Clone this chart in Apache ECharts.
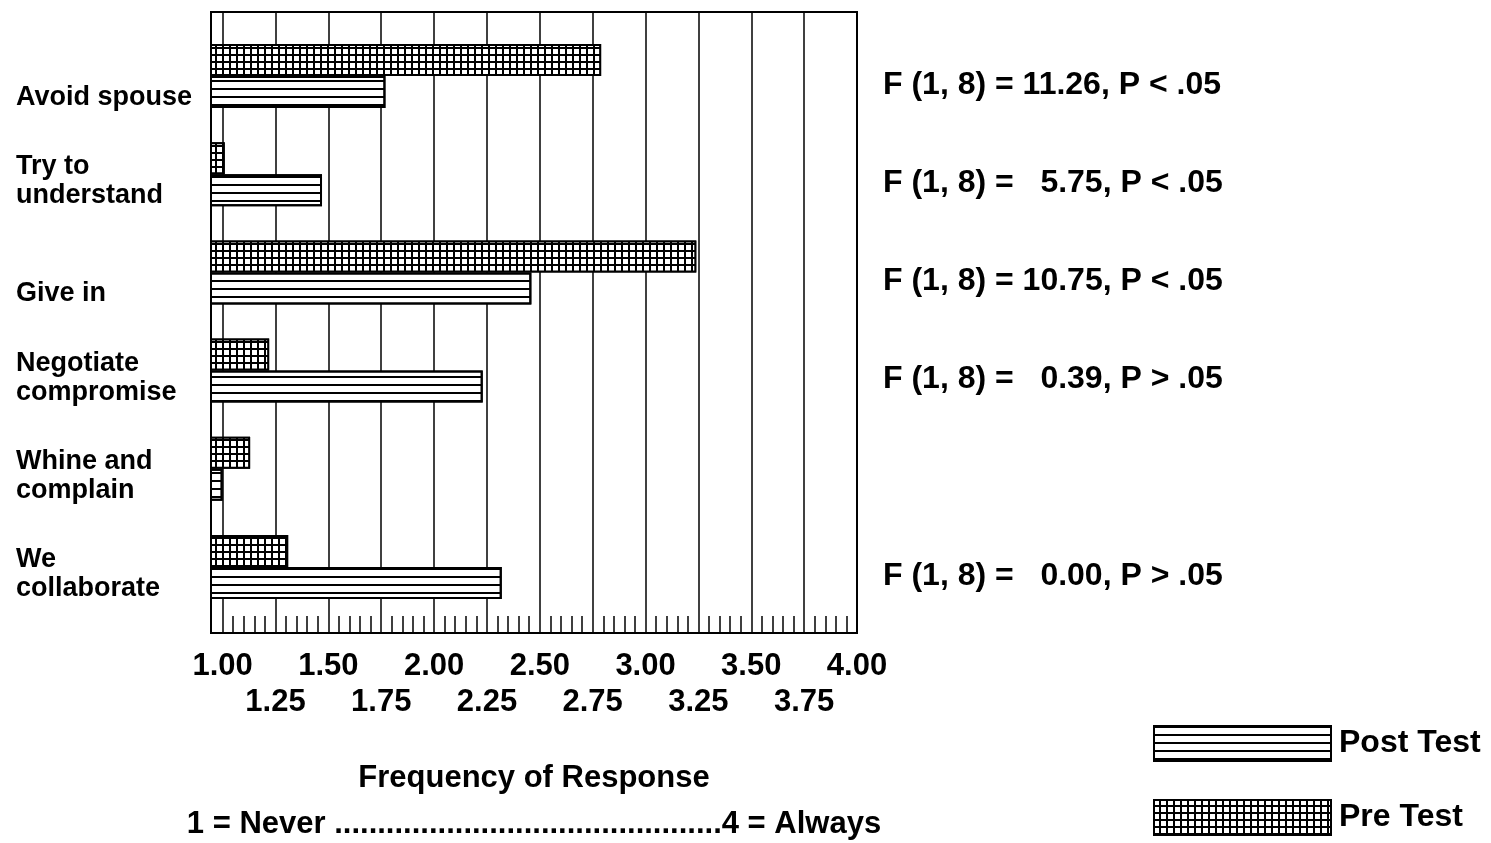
<!DOCTYPE html>
<html>
<head>
<meta charset="utf-8">
<script src="https://cdn.jsdelivr.net/npm/echarts@6/dist/echarts.min.js"></script>
<style>
html,body{margin:0;padding:0;background:#fff;}
#chart{width:1491px;height:843px;}
</style>
</head>
<body>
<div id="chart"></div>
<script>
// ---- data ----
const categories = ['Avoid spouse', 'Try to\nunderstand', 'Give in', 'Negotiate\ncompromise', 'Whine and\ncomplain', 'We\ncollaborate'];
const preTest  = [2.79, 1.01, 3.24, 1.22, 1.13, 1.31];
const postTest = [1.77, 1.47, 2.46, 2.23, 1.00, 2.32];
const fStats = [
  'F (1, 8) = 11.26, P < .05',
  'F (1, 8) =   5.75, P < .05',
  'F (1, 8) = 10.75, P < .05',
  'F (1, 8) =   0.39, P > .05',
  '',
  'F (1, 8) =   0.00, P > .05'
];
const tickRow1 = [1.00, 1.50, 2.00, 2.50, 3.00, 3.50, 4.00];
const tickRow2 = [1.25, 1.75, 2.25, 2.75, 3.25, 3.75];
const legendNames = ['Post Test', 'Pre Test'];
const axisTitle = 'Frequency of Response';
const scaleNote = '1 = Never .............................................4 = Always';

// ---- structure ----
const allTicks = tickRow1.concat(tickRow2).sort((a, b) => a - b);
const minorTicks = [];
for (let i = 0; i < allTicks.length - 1; i++) {
  const step = (allTicks[i + 1] - allTicks[i]) / 5;
  for (let k = 1; k < 5; k++) minorTicks.push(+(allTicks[i] + k * step).toFixed(4));
}
const X_MIN = 0.945, X_MAX = 4;
const FONT = "'Liberation Sans', Arial, Helvetica, sans-serif";
const txt = (size) => ({ color: '#000', fontFamily: FONT, fontWeight: 'bold', fontSize: size });

const chart = echarts.init(document.getElementById('chart'), null, { renderer: 'canvas' });
const option = {
  animation: false,
  backgroundColor: '#fff',
  grid: [
    { left: 211, right: 634, top: 12, bottom: 210, outerBoundsMode: 'none', containLabel: false,
      show: true, borderColor: '#000', borderWidth: 2, backgroundColor: 'transparent' },
    { left: 211, right: 634, top: 27, bottom: 227, outerBoundsMode: 'none', containLabel: false }
  ],
  legend: {
    orient: 'vertical', left: 1153, top: 725, padding: 0,
    itemWidth: 177, itemHeight: 35, itemGap: 37,
    icon: 'rect',
    data: legendNames,
    textStyle: Object.assign(txt(32), { lineHeight: 34, padding: [0, 0, 0, 3] })
  },
  xAxis: [
    {
      gridIndex: 0, type: 'value', min: X_MIN, max: X_MAX, position: 'bottom',
      axisLine: { show: false },
      axisTick: { show: false, customValues: allTicks },
      axisLabel: Object.assign(txt(31), { customValues: tickRow1, margin: 18, formatter: v => v.toFixed(2) }),
      splitLine: { show: true, lineStyle: { color: '#000', width: 1.5 } },
      name: axisTitle + '\n' + scaleNote,
      nameLocation: 'middle', nameGap: 122,
      nameTextStyle: Object.assign(txt(31), { lineHeight: 46 })
    },
    {
      gridIndex: 0, type: 'value', min: X_MIN, max: X_MAX, position: 'bottom',
      axisLine: { show: false },
      axisTick: { show: true, inside: true, length: 17, customValues: minorTicks, lineStyle: { color: '#000', width: 1.5 } },
      axisLabel: Object.assign(txt(31), { customValues: tickRow2, margin: 54, formatter: v => v.toFixed(2) }),
      splitLine: { show: false }
    },
    { gridIndex: 1, type: 'value', min: X_MIN, max: X_MAX, show: false }
  ],
  yAxis: [
    { gridIndex: 0, type: 'value', min: 0, max: 1, show: false },
    {
      gridIndex: 1, type: 'category', data: categories, inverse: true,
      axisLine: { show: false }, axisTick: { show: false }, splitLine: { show: false },
      axisLabel: Object.assign(txt(27), {
        interval: 0, align: 'left', margin: 195, verticalAlign: 'middle', lineHeight: 29,
        formatter: v => '{pad| }\n' + (v.indexOf('\n') < 0 ? ' \n' + v : v),
        rich: { pad: { fontSize: 4, lineHeight: 14 } }
      })
    },
    {
      gridIndex: 1, type: 'category', data: categories, inverse: true, position: 'right',
      axisLine: { show: false }, axisTick: { show: false }, splitLine: { show: false },
      axisLabel: Object.assign(txt(32), {
        interval: 0, align: 'left', margin: 26, verticalAlign: 'middle', lineHeight: 36,
        formatter: (v, i) => '{pad| }\n' + fStats[i],
        rich: { pad: { fontSize: 4, lineHeight: 18 } }
      })
    }
  ],
  series: [
    {
      name: 'Pre Test', type: 'bar', xAxisIndex: 2, yAxisIndex: 1,
      data: preTest, barWidth: 32, barGap: '0%',
      itemStyle: {
        color: '#000', borderColor: '#000', borderWidth: 2,
        decal: { symbol: 'rect', symbolSize: 1, color: '#fff', dashArrayX: [5, 2], dashArrayY: [5, 2], rotation: 0 }
      }
    },
    {
      name: 'Post Test', type: 'bar', xAxisIndex: 2, yAxisIndex: 1,
      data: postTest, barWidth: 32, barGap: '0%',
      itemStyle: {
        color: '#fff', borderColor: '#000', borderWidth: 2,
        decal: { symbol: 'rect', symbolSize: 1, color: '#000', dashArrayX: [1, 0], dashArrayY: [2, 6], rotation: 0 }
      }
    }
  ]
};
chart.setOption(option);
</script>
</body>
</html>
